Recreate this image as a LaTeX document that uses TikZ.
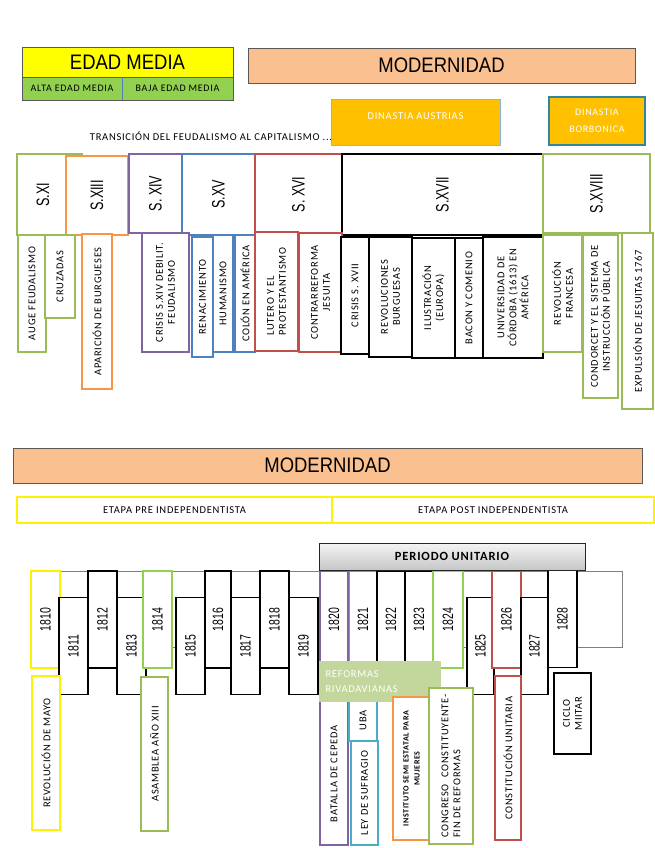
\documentclass[tikz,border=0pt]{standalone}
\usepackage{fontspec}
\setmainfont{Carlito}
\newfontfamily\titlefont[FakeStretch=0.88]{Liberation Sans}
\newfontfamily\narrowfont[FakeStretch=0.7]{Liberation Sans}
\newfontfamily\lblfont[LetterSpace=7]{Carlito}

\definecolor{edadyellow}{HTML}{FFFF00}
\definecolor{edadgreen}{HTML}{92D050}
\definecolor{peach}{HTML}{FAC090}
\definecolor{dinorange}{HTML}{FFC000}
\definecolor{dinteal}{HTML}{31859C}
\definecolor{dinblue}{HTML}{8EB4E3}
\definecolor{sgreen}{HTML}{9BBB59}
\definecolor{ygreen}{HTML}{92D050}
\definecolor{sorange}{HTML}{F79646}
\definecolor{spurple}{HTML}{8064A2}
\definecolor{sblue}{HTML}{4F81BD}
\definecolor{sred}{HTML}{C0504D}
\definecolor{saqua}{HTML}{4BACC6}
\definecolor{reformgreen}{HTML}{C3D69B}

\tikzset{
  titlebox/.style={draw=gray!70!black, line width=0.8pt, inner sep=0pt,
    font=\titlefont\fontsize{21}{21}\selectfont},
  subbox/.style={draw=gray!70!black, line width=0.8pt, fill=edadgreen, inner sep=0pt,
    font=\lblfont\fontsize{10}{10}\selectfont},
  sigbox/.style={draw=#1, line width=1.6pt, fill=white, inner sep=0pt, rotate=90,
    font=\narrowfont\fontsize{18}{18}\selectfont},
  evbox/.style={draw=#1, line width=1.6pt, fill=white, inner sep=1pt, rotate=90,
    align=center, font=\lblfont\fontsize{10.5}{12}\selectfont},
  ybox/.style={draw=#1, line width=1.6pt, fill=white, inner sep=0pt, rotate=90,
    minimum width=97, font=\narrowfont\fontsize{15}{15}\selectfont},
  dinbox/.style={fill=dinorange, line width=1pt, inner sep=0pt},
  etapa/.style={draw=yellow, line width=1.5pt, inner sep=0pt,
    font=\lblfont\fontsize{10.5}{10}\selectfont},
}

\begin{document}
\begin{tikzpicture}[x=1pt,y=-1pt]
\useasboundingbox (0,0) rectangle (655,848);

% edad media / modernidad
\node[titlebox, fill=edadyellow, minimum width=211, minimum height=30] (edad) at (127.5,62) {EDAD MEDIA};
\node[subbox, minimum width=100, minimum height=23] (alta) at (72,88.5) {ALTA EDAD MEDIA};
\node[subbox, minimum width=111, minimum height=23] (baja) at (177.5,88.5) {BAJA EDAD MEDIA};
\draw[sblue, line width=0.6pt] (alta.north east) -- (alta.south east);
\node[titlebox, fill=peach, minimum width=387, minimum height=35] (moder) at (441.5,65.5) {MODERNIDAD};

\node[dinbox, draw=dinblue, minimum width=169, minimum height=45] (austrias) at (415.5,122.5) {};
\node[text=white, font=\lblfont\fontsize{10.5}{10}\selectfont] (austlbl) at (415.5,116) {DINASTIA AUSTRIAS};
\node[dinbox, draw=dinteal, line width=2pt, minimum width=96, minimum height=48, text=white,
  align=center, font=\lblfont\fontsize{10}{17}\selectfont] (borbon) at (597,121) {DINASTIA\\BORBONICA};
\node[font=\lblfont\fontsize{10.5}{10}\selectfont] (trans) at (211,136) {TRANSICIÓN DEL FEUDALISMO AL CAPITALISMO ...};

% siglos
\node[sigbox=sgreen, minimum width=81, minimum height=65] (sxi) at (49.5,194.5) {};
\node[rotate=90, font=\narrowfont\fontsize{18}{18}\selectfont] (sxilbl) at (43,195) {S.XI};
\node[sigbox=sorange, minimum width=79, minimum height=62] (sxiii) at (97,195.5) {S.XIII};
\node[sigbox=spurple, minimum width=79, minimum height=53] (sxiv) at (155.5,193.5) {S. XIV};
\node[sigbox=sblue, minimum width=81, minimum height=73] (sxv) at (218.5,194.5) {S.XV};
\node[sigbox=sred, minimum width=81, minimum height=87] (sxvi) at (298.5,194.5) {S. XVI};
\node[sigbox=black, minimum width=81, minimum height=201] (sxvii) at (442.5,194.5) {S.XVII};
\node[sigbox=sgreen, minimum width=79, minimum height=107] (sxviii) at (596.5,193.5) {S.XVIII};

\node[evbox=sgreen, minimum width=117, minimum height=28] (auge) at (32,293.5) {AUGE FEUDALISMO};
\node[evbox=sgreen, minimum width=83, minimum height=30] (cruz) at (60,276.5) {CRUZADAS};
\node[evbox=sorange, minimum width=155, minimum height=30] (apar) at (97,311.5) {APARICIÓN DE BURGUESES};
\node[evbox=spurple, minimum width=119, minimum height=47] (crisxiv) at (165.5,292.5) {CRISIS S.XIV DEBILIT.\\FEUDALISMO};
\node[evbox=sblue, minimum width=120, minimum height=21] (renac) at (202.5,297) {RENACIMIENTO};
\node[evbox=sblue, minimum width=117, minimum height=20] (human) at (223,293.5) {HUMANISMO};
\node[evbox=sblue, minimum width=117, minimum height=20] (colon) at (245,293.5) {COLÓN EN AMÉRICA};
\node[evbox=sred, minimum width=119, minimum height=43, align=left] (lutero) at (276.5,291.5) {LUTERO Y EL\\PROTESTANTISMO};
\node[evbox=sred, minimum width=119, minimum height=43] (contra) at (320.5,292.5) {CONTRARREFORMA\\JESUITA};
\node[evbox=black, minimum width=117, minimum height=28] (crisxvii) at (355,295.5) {CRISIS S. XVII};
\node[evbox=black, minimum width=120, minimum height=43] (revburg) at (390.5,297) {REVOLUCIONES\\BURGUESAS};
\node[evbox=black, minimum width=120, minimum height=43] (ilus) at (433.5,298) {ILUSTRACIÓN\\(EUROPA)};
\node[evbox=black, minimum width=120, minimum height=28] (bacon) at (469,298) {BACON Y COMENIO};
\node[evbox=black, minimum width=121, minimum height=60] (univ) at (513,297.5) {UNIVERSIDAD DE\\CÓRDOBA (1613) EN\\AMÉRICA};
\node[evbox=sgreen, minimum width=117, minimum height=39] (revfr) at (562.5,293.5) {REVOLUCIÓN\\FRANCESA};
\node[evbox=sgreen, minimum width=163, minimum height=35] (condor) at (600.5,316.5) {CONDORCET Y EL SISTEMA DE\\INSTRUCCIÓN PÚBLICA};
\node[evbox=sgreen, minimum width=176, minimum height=31] (expul) at (637.5,321) {EXPULSIÓN DE JESUITAS 1767};

% linea de tiempo
\node[titlebox, fill=peach, minimum width=629, minimum height=35] (moder2) at (327.5,465.5) {MODERNIDAD};
\node[etapa, minimum width=315, minimum height=26] (pre) at (174.5,510) {ETAPA PRE INDEPENDENTISTA};
\node[etapa, minimum width=322, minimum height=26] (post) at (493,510) {ETAPA POST INDEPENDENTISTA};

\node[draw=gray, line width=0.7pt, minimum width=562, minimum height=76, inner sep=0pt] (tl) at (341,609) {};
\foreach \yr/\xc/\w/\col/\yc in {1810/45.5/29/yellow/619.5, 1811/73.5/29/black/646,
    1812/102.5/29/black/619.5, 1813/131.5/29/black/646, 1814/157.5/29/ygreen/619.5,
    1815/190.5/29/black/646, 1816/218/26/black/619.5, 1817/245.5/29/black/646,
    1818/274.5/29/black/619.5, 1819/303.5/29/black/646, 1821/363/28/saqua/619.5,
    1822/391/28/black/619.5, 1823/419/28/black/619.5}
  \node[ybox=\col, minimum height=\w] (y\yr) at (\xc,\yc) {\yr};
\node[ybox=spurple, minimum width=274, minimum height=28] (y1820) at (334,708) {};
\node[rotate=90, font=\narrowfont\fontsize{15}{15}\selectfont] (t1820) at (334,619.5) {1820};
\node[rotate=90, font=\lblfont\fontsize{10.5}{10}\selectfont] (cepeda) at (334,774) {BATALLA DE CEPEDA};
\foreach \yr/\xc/\w/\col/\yc in {1824/448/30/ygreen/619.5, 1825/480.5/27/black/646,
    1826/506.5/29/sred/619.5, 1827/534.5/27/black/646, 1828/562.5/29/black/619}
  \node[ybox=\col, minimum height=\w] (y\yr) at (\xc,\yc) {\yr};

\node[evbox=yellow, minimum width=154, minimum height=28] (mayo) at (46,753) {REVOLUCIÓN DE MAYO};
\node[evbox=sgreen, minimum width=154, minimum height=27] (asamb) at (154.5,754) {ASAMBLEA AÑO XIII};
\node[evbox=saqua, minimum width=41, minimum height=28] (uba) at (363,720.5) {UBA};
\node[evbox=saqua, minimum width=104, minimum height=27] (ley) at (364.5,793) {LEY DE SUFRAGIO};
\node[fill=reformgreen, minimum height=41, text width=108, inner xsep=7pt, inner ysep=0pt,
  align=left, text=white, font=\lblfont\fontsize{10.5}{15}\selectfont] (reform) at (379.5,681.5) {REFORMAS\\RIVADAVIANAS};
\node[evbox=sorange, minimum width=143, minimum height=37,
  font=\lblfont\bfseries\fontsize{8}{11}\selectfont] (inst) at (411.5,768.5) {INSTITUTO SEMI ESTATAL PARA\\MUJERES};
\node[evbox=sgreen, minimum width=156, minimum height=44, align=left] (congr) at (451,766) {CONGRESO\ \ CONSTITUYENTE-\\FIN DE REFORMAS};
\node[evbox=sred, minimum width=164, minimum height=26] (const) at (508,758) {CONSTITUCIÓN UNITARIA};
\node[evbox=black, minimum width=81, minimum height=37] (ciclo) at (572.5,713.5) {CICLO\\MIITAR};

\node[draw=gray!30!black, line width=1pt, top color=gray!8, bottom color=gray!45,
  minimum width=266, minimum height=27, font=\lblfont\bfseries\fontsize{12.5}{12}\selectfont] (periodo) at (452,556.5) {PERIODO UNITARIO};
\end{tikzpicture}
\end{document}
